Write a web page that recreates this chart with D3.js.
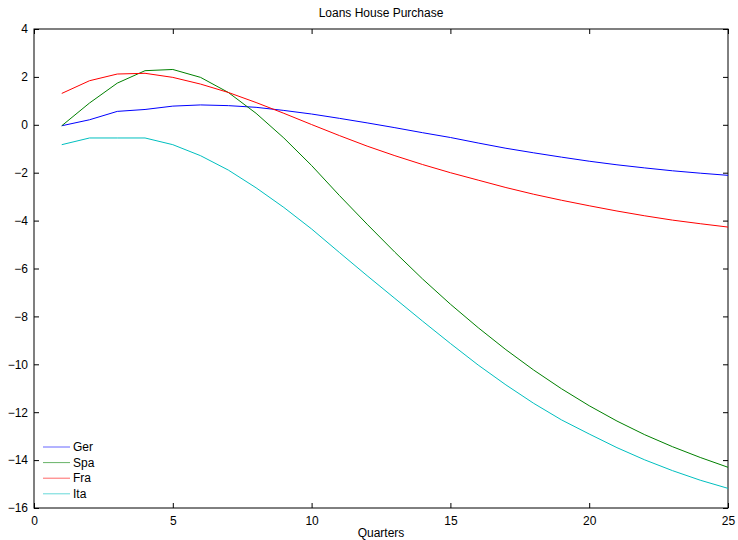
<!DOCTYPE html>
<html>
<head>
<meta charset="utf-8">
<script src="https://cdn.jsdelivr.net/npm/d3@7.9.0/dist/d3.min.js"></script>
<style>
  body { margin: 0; background: #fff; }
  text { font-family: "Liberation Sans", Arial, sans-serif; font-size: 12px; fill: #000; }
</style>
</head>
<body>
<svg id="chart" width="738" height="540"></svg>
<script>
// quarters 1..25
const quarters = d3.range(1, 26);

const ger = [-0.04, 0.21, 0.56, 0.64, 0.78, 0.83, 0.80, 0.73, 0.60, 0.45,
  0.27, 0.08, -0.12, -0.33, -0.53, -0.76, -0.98, -1.17, -1.35, -1.52,
  -1.67, -1.80, -1.92, -2.02, -2.11];
const spa = [-0.04, 0.91, 1.74, 2.26, 2.31, 1.98, 1.35, 0.48, -0.55, -1.70,
  -2.95, -4.15, -5.32, -6.44, -7.49, -8.47, -9.39, -10.24, -11.02, -11.73,
  -12.37, -12.94, -13.44, -13.89, -14.30];
const fra = [1.31, 1.84, 2.12, 2.15, 1.98, 1.70, 1.35, 0.93, 0.48, 0.01,
  -0.45, -0.89, -1.29, -1.66, -2.00, -2.31, -2.62, -2.90, -3.15, -3.38,
  -3.60, -3.80, -3.98, -4.13, -4.27];
const ita = [-0.83, -0.55, -0.55, -0.55, -0.83, -1.29, -1.89, -2.63, -3.45, -4.35,
  -5.33, -6.30, -7.25, -8.20, -9.13, -10.03, -10.86, -11.63, -12.32, -12.91,
  -13.48, -13.99, -14.44, -14.84, -15.18];

const seriesNames = ['Ger', 'Spa', 'Fra', 'Ita'];
const seriesColors = ['#0000ff', '#008000', '#ff0000', '#00bfbf'];
const seriesValues = [ger, spa, fra, ita];

const xTicks = [0, 5, 10, 15, 20, 25];
const yTicks = d3.range(-16, 5, 2);

const margin = { left: 34, right: 10, top: 29, bottom: 32 };
const width = 738, height = 540;

const svg = d3.select('#chart');

const x = d3.scaleLinear().domain([0, 25]).range([margin.left, width - margin.right]);
const y = d3.scaleLinear().domain([-16, 4]).range([height - margin.bottom, margin.top]);

// axes with inward ticks (box style)
const tickLen = 5;
svg.append('g')
  .attr('transform', `translate(0,${y(-16)})`)
  .call(d3.axisBottom(x).tickValues(xTicks).tickSizeInner(-tickLen).tickSizeOuter(0).tickPadding(8))
  .call(g => g.select('.domain').remove());

svg.append('g')
  .attr('transform', `translate(${x(0)},0)`)
  .call(d3.axisLeft(y).tickValues(yTicks).tickSizeInner(-tickLen).tickSizeOuter(0).tickPadding(6))
  .call(g => g.select('.domain').remove());

svg.append('g')
  .attr('transform', `translate(0,${y(4)})`)
  .call(d3.axisTop(x).tickValues(xTicks).tickSizeInner(-tickLen).tickSizeOuter(0).tickFormat(''))
  .call(g => g.select('.domain').remove());

svg.append('g')
  .attr('transform', `translate(${x(25)},0)`)
  .call(d3.axisRight(y).tickValues(yTicks).tickSizeInner(-tickLen).tickSizeOuter(0).tickFormat(''))
  .call(g => g.select('.domain').remove());

svg.selectAll('.tick text').style('font-size', '12px').style('font-family', '"Liberation Sans", Arial, sans-serif');
svg.selectAll('.tick line').attr('stroke', '#000');

// frame
svg.append('rect')
  .attr('x', x(0)).attr('y', y(4))
  .attr('width', x(25) - x(0)).attr('height', y(-16) - y(4))
  .attr('fill', 'none').attr('stroke', '#000').attr('stroke-width', 1);

const line = d3.line()
  .x((d, i) => x(quarters[i]))
  .y(d => y(d));

seriesValues.forEach((vals, k) => {
  svg.append('path')
    .datum(vals)
    .attr('fill', 'none')
    .attr('stroke', seriesColors[k])
    .attr('stroke-width', 1)
    .attr('d', line);
});

// legend
const legend = svg.append('g').attr('transform', 'translate(43,447)');
seriesNames.forEach((name, k) => {
  const gy = k * 15.6;
  legend.append('line')
    .attr('x1', 0).attr('x2', 27).attr('y1', gy).attr('y2', gy)
    .attr('stroke', seriesColors[k]).attr('stroke-opacity', 0.6);
  legend.append('text')
    .attr('x', 30).attr('y', gy).attr('dy', '0.35em')
    .text(name);
});

// title and x label
svg.append('text')
  .attr('x', (x(0) + x(25)) / 2).attr('y', 17)
  .attr('text-anchor', 'middle')
  .text('Loans House Purchase');

svg.append('text')
  .attr('x', (x(0) + x(25)) / 2).attr('y', 537)
  .attr('text-anchor', 'middle')
  .text('Quarters');
</script>
</body>
</html>
